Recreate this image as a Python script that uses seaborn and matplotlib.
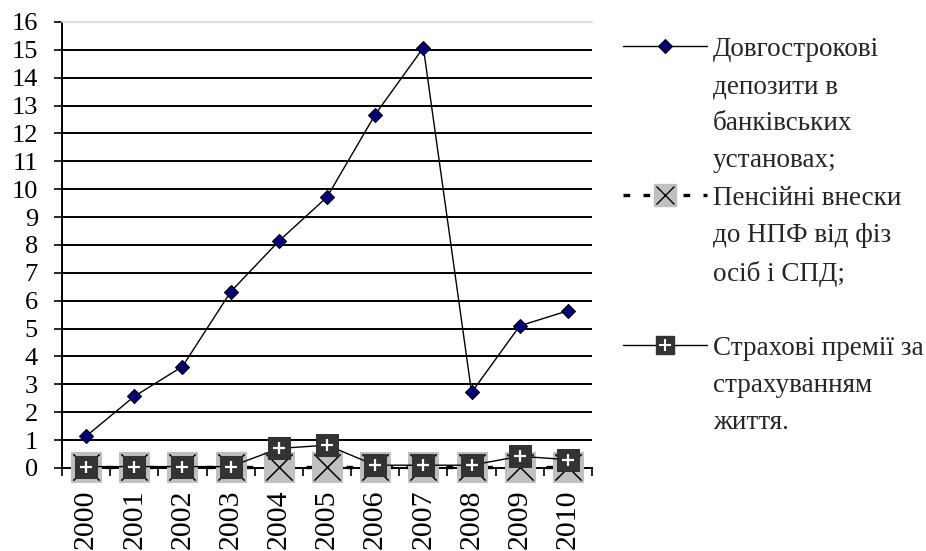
import numpy as np
import pandas as pd
import matplotlib
matplotlib.use("Agg")
import matplotlib.pyplot as plt
from matplotlib.lines import Line2D
from matplotlib.legend_handler import HandlerTuple
import seaborn as sns

# --- data -------------------------------------------------------------
years = ["2000", "2001", "2002", "2003", "2004", "2005",
         "2006", "2007", "2008", "2009", "2010"]
deposits = [1.14, 2.57, 3.64, 6.32, 8.14, 9.72, 12.68, 15.08, 2.71, 5.10, 5.64]
pension = [0.02, 0.02, 0.02, 0.02, 0.02, 0.02, 0.02, 0.02, 0.02, 0.02, 0.02]
insurance = [0.05, 0.05, 0.05, 0.05, 0.70, 0.82, 0.10, 0.10, 0.10, 0.42, 0.30]
series_labels = [
    "Довгострокові\nдепозити в\nбанківських\nустановах;",
    "Пенсійні внески\nдо НПФ від фіз\nосіб і СПД;\n",
    "Страхові премії за\nстрахуванням\nжиття.",
]
yticks = list(range(0, 17))

df = pd.DataFrame({"year": years, "deposits": deposits,
                   "pension": pension, "insurance": insurance})

# --- style ------------------------------------------------------------
sns.set_theme(style="white")
plt.rcParams["font.family"] = ["Liberation Serif", "DejaVu Serif"]

fig = plt.figure(figsize=(9.26, 5.51), dpi=100)
ax = fig.add_axes([0.06695, 0.15064, 0.5724, 0.80944])

DASH = (0, (2, 4))

# pension contributions: grey squares with a black cross, dashed line
sns.lineplot(data=df, x="year", y="pension", ax=ax, sort=False,
             color="black", lw=2.4, linestyle=DASH,
             marker="s", markersize=22, markerfacecolor="#C0C0C0",
             markeredgecolor="#C0C0C0", zorder=3, legend=False,
             clip_on=False)
sns.scatterplot(data=df, x="year", y="pension", ax=ax, marker="x",
                s=19 ** 2, color="black", linewidth=1.1, zorder=4,
                legend=False, clip_on=False)

# insurance premiums: dark squares with a white plus
sns.lineplot(data=df, x="year", y="insurance", ax=ax, sort=False,
             color="black", lw=1.0,
             marker="s", markersize=16.5, markerfacecolor="#333333",
             markeredgecolor="#333333", zorder=5, legend=False,
             clip_on=False)
sns.scatterplot(data=df, x="year", y="insurance", ax=ax, marker="+",
                s=8.5 ** 2, color="white", linewidth=1.6, zorder=6,
                legend=False, clip_on=False)

# long-term bank deposits: navy diamonds
sns.lineplot(data=df, x="year", y="deposits", ax=ax, sort=False,
             color="black", lw=1.0,
             marker="D", markersize=7, markerfacecolor="#000080",
             markeredgecolor="black", markeredgewidth=0.8, zorder=7,
             legend=False, clip_on=False)

# --- axes -------------------------------------------------------------
ax.set_xlim(-0.5, len(years) - 0.5)
ax.set_ylim(0, 16)
ax.set_xlabel("")
ax.set_ylabel("")

ax.set_yticks(yticks)
ax.set_yticklabels([str(v) for v in yticks])
ax.yaxis.grid(True, color="black", lw=1.4)
ax.xaxis.grid(False)
ax.get_ygridlines()[-1].set_visible(False)
ax.set_axisbelow(True)

ax.set_xticks(range(len(years)))
ax.set_xticklabels(years, rotation=90)
ax.set_xticks(np.arange(-0.5, len(years), 1.0), minor=True)
ax.tick_params(axis="x", which="major", length=0, pad=15.5,
               labelsize=21.5, colors="black")
ax.tick_params(axis="x", which="minor", bottom=True, length=5.8,
               width=1.2, direction="out", color="black")
ax.tick_params(axis="y", which="major", left=True, length=5.8, width=1.2,
               direction="out", pad=11.5, labelsize=19, colors="black")

for side in ("left", "bottom"):
    ax.spines[side].set_color("black")
    ax.spines[side].set_linewidth(1.4)
ax.spines["right"].set_visible(False)
ax.spines["top"].set_color("#D9D9D9")
ax.spines["top"].set_linewidth(1.2)

# --- legend -----------------------------------------------------------
h_dep = Line2D([], [], color="black", lw=1.0, marker="D", markersize=7,
               markerfacecolor="#000080", markeredgecolor="black",
               markeredgewidth=0.8)
h_pen = (Line2D([], [], color="black", lw=2.4, linestyle=DASH, marker="s",
                markersize=16.5, markerfacecolor="#C0C0C0",
                markeredgecolor="#C0C0C0"),
         Line2D([], [], ls="none", marker="x", markersize=12.5,
                color="black", markeredgewidth=1.0))
h_ins = (Line2D([], [], color="black", lw=1.0, marker="s", markersize=13,
                markerfacecolor="#333333", markeredgecolor="#333333"),
         Line2D([], [], ls="none", marker="+", markersize=8,
                color="white", markeredgewidth=1.5))

leg = fig.legend([h_dep, h_pen, h_ins], series_labels,
                 handler_map={tuple: HandlerTuple(ndivide=1)},
                 loc="upper left", bbox_to_anchor=(623 / 926, 0.933),
                 frameon=False, fontsize=19.5, borderpad=0,
                 borderaxespad=0, handlelength=3.1, handletextpad=0.22,
                 labelspacing=0.45)
for t in leg.get_texts():
    t.set_linespacing(1.64)
# keep each handle level with the first line of its label
for col in leg._legend_handle_box.get_children():
    for row in col.get_children():
        row.align = "top"

fig.savefig("out.png", dpi=100)
